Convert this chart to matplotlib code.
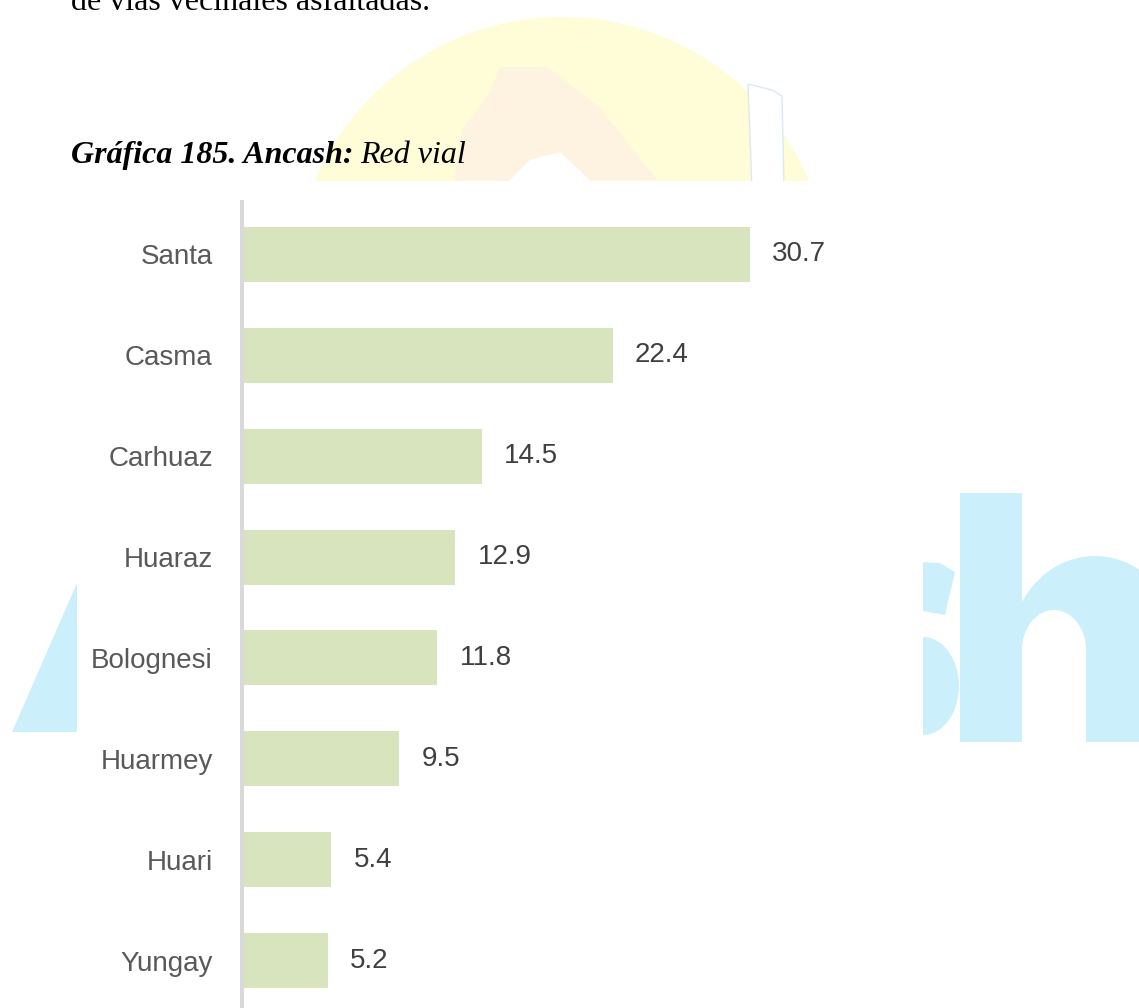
import matplotlib
matplotlib.use('Agg')
import matplotlib.pyplot as plt
from matplotlib.patches import Rectangle, Polygon, Ellipse, Circle

# Datos
provincias = ['Santa', 'Casma', 'Carhuaz', 'Huaraz', 'Bolognesi', 'Huarmey', 'Huari', 'Yungay']
valores = [30.7, 22.4, 14.5, 12.9, 11.8, 9.5, 5.4, 5.2]

texto_previo = 'de vías vecinales asfaltadas.'
titulo_negrita = 'Gráfica 185. Ancash:'
titulo_cursiva = 'Red vial'

W, H = 1139, 1008
fig = plt.figure(figsize=(W / 100, H / 100), dpi=100)

# Fondo con la marca de agua (coordenadas en pixeles)
bg = fig.add_axes([0, 0, 1, 1], zorder=0)
bg.set_xlim(0, W)
bg.set_ylim(H, 0)
bg.axis('off')

bg.add_patch(Circle((562, 285), 268, color='#FFFCD8', lw=0))
bg.add_patch(Polygon([(453, 190), (462, 130), (488, 96), (500, 67), (548, 67),
                      (600, 108), (665, 190)], closed=True, color='#FDF3E0', lw=0))
bg.add_patch(Polygon([(500, 190), (530, 160), (560, 152), (600, 190)], closed=True,
                     color='white', lw=0))
bg.add_patch(Polygon([(748, 84), (772, 90), (782, 96), (784, 190), (752, 190)], closed=True,
                     facecolor='white', edgecolor='#DCE8F3', lw=1))

cian = '#CCF0FB'
bg.add_patch(Polygon([(12, 732), (77, 583), (100, 583), (100, 732)], closed=True, color=cian, lw=0))
bg.add_patch(Polygon([(900, 561), (940, 563), (955, 572), (945, 615), (900, 607)], closed=True,
                     color=cian, lw=0))
bg.add_patch(Ellipse((923, 686), 72, 98, color=cian, lw=0))
bg.add_patch(Ellipse((1095, 650), 170, 188, color=cian, lw=0))
bg.add_patch(Rectangle((1010, 650), 200, 92, color=cian, lw=0))
bg.add_patch(Ellipse((1054, 650), 64, 80, color='white', lw=0))
bg.add_patch(Rectangle((1022, 650), 64, 100, color='white', lw=0))
bg.add_patch(Rectangle((1000, 742), 200, 30, color='white', lw=0))
bg.add_patch(Rectangle((960, 493), 62, 249, color=cian, lw=0))

# recuadro blanco del grafico
bg.add_patch(Rectangle((77, 181), 846, 830, color='white', lw=0))

# Textos del documento
fig.text(71 / W, 1 - 10 / H, texto_previo, family='Liberation Serif', fontsize=23,
         va='baseline', color='black')
t1 = fig.text(71 / W, 1 - 163 / H, titulo_negrita, family='Liberation Serif', fontsize=23,
              style='italic', weight='bold', va='baseline', color='black')
fig.canvas.draw()
ext = t1.get_window_extent()
fig.text((ext.x1 + 7) / W, 1 - 163 / H, titulo_cursiva, family='Liberation Serif', fontsize=23,
         style='italic', va='baseline', color='black')

# Grafico de barras
ax = fig.add_axes([242 / W, 0, 681 / W, 806 / H], zorder=1)
ax.patch.set_alpha(0)
pos = list(range(len(provincias)))
barras = ax.barh(pos, valores, height=0.545, color='#D7E4BD')
ax.set_ylim(7.47, -0.52)
ax.set_xlim(0, 681 / 16.55)
ax.set_yticks(pos)
ax.set_yticklabels(provincias, family='Liberation Sans')
ax.tick_params(axis='y', length=0, pad=21, labelsize=20, labelcolor='#595959')
ax.set_xticks([])
for s in ['top', 'right', 'bottom']:
    ax.spines[s].set_visible(False)
ax.spines['left'].set_color('#D9D9D9')
ax.spines['left'].set_linewidth(2.9)

ax.bar_label(barras, labels=[f'{v:.1f}' for v in valores], padding=16, fontsize=20,
             color='#404040', family='Liberation Sans')

fig.savefig('out.png', dpi=100)
